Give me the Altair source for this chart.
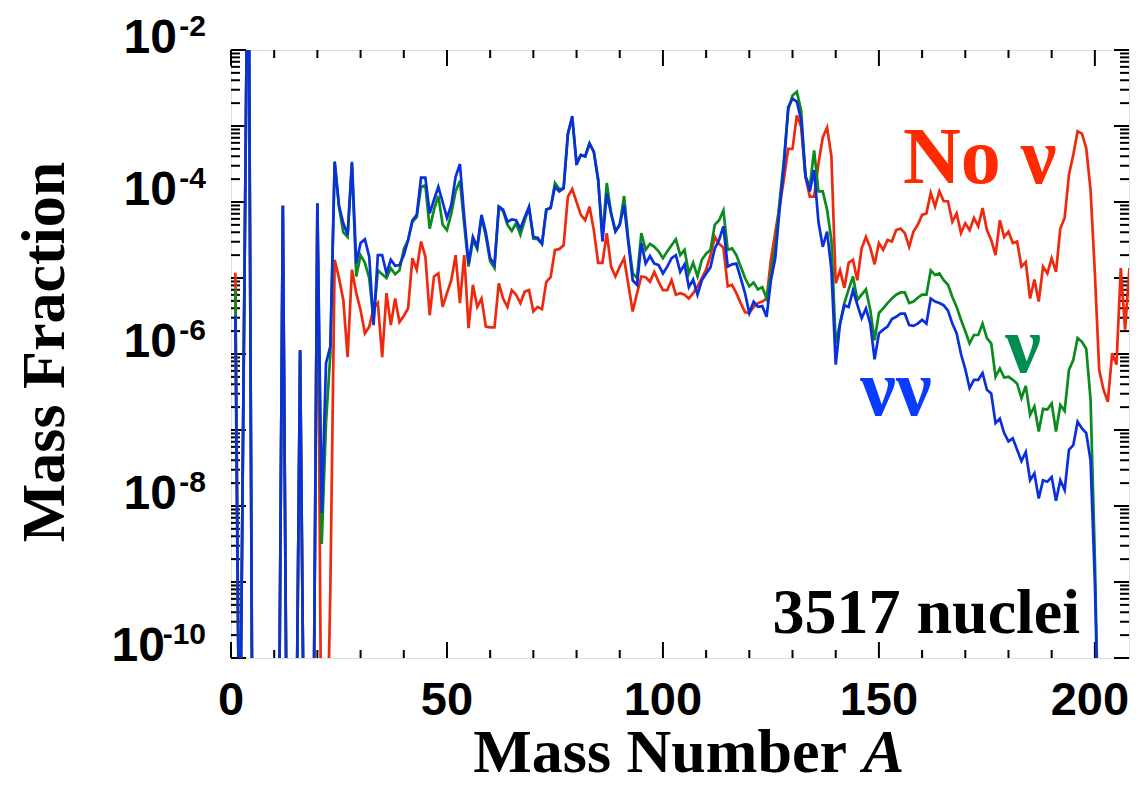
import altair as alt
import pandas as pd

# ---------------- data (mass number A, log10 of mass fraction) ----------------
A_nonu = [1, 2, 4, 5, 11, 12, 13, 15, 16, 17, 19, 20, 21, 22, 23, 24, 25, 26, 27, 28, 29, 30,
          31, 32, 33, 34, 35, 36, 37, 38, 39, 40, 41, 42, 43, 44, 45, 46, 47, 48, 49, 50,
          51, 52, 53, 54, 55, 56, 57, 58, 59, 60, 61, 62, 63, 64, 65, 66, 67, 68, 69, 70,
          71, 72, 73, 74, 75, 76, 77, 78, 79, 80, 81, 82, 83, 84, 85, 86, 87, 88, 89, 90,
          91, 92, 93, 94, 95, 96, 97, 98, 99, 100, 101, 102, 103, 104, 105, 106, 107, 108, 109, 110,
          111, 112, 113, 114, 115, 116, 117, 118, 119, 120, 121, 122, 123, 124, 125, 126, 127, 128, 129, 130,
          131, 132, 133, 134, 135, 136, 137, 138, 139, 140, 141, 142, 143, 144, 145, 146, 147, 148, 149, 150,
          151, 152, 153, 154, 155, 156, 157, 158, 159, 160, 161, 162, 163, 164, 165, 166, 167, 168, 169, 170,
          171, 172, 173, 174, 175, 176, 177, 178, 179, 180, 181, 182, 183, 184, 185, 186, 187, 188, 189, 190,
          191, 192, 193, 194, 195, 196, 197, 198, 199, 200, 201, 202, 203, 204, 205, 206, 207, 208, 209]
logX_nonu = [-4.93, -12, 0.5, -12, -12, -4.05, -12, -12, -5.95, -12, -12, -4.02, -12, -12, -9.1, -4.76, -5.0, -5.29, -6.04, -4.89, -5.2, -5.42,
             -5.73, -5.64, -5.4, -5.33, -6.04, -5.2, -5.62, -5.27, -5.58, -5.5, -5.4, -4.74, -4.89, -4.52, -4.72, -5.49, -4.98, -4.94, -5.38, -5.2,
             -5.03, -4.7, -5.33, -4.7, -5.66, -5.09, -5.38, -5.27, -5.64, -5.65, -5.65, -5.07, -5.27, -5.38, -5.16, -5.22, -5.33, -5.18, -5.16, -5.44,
             -5.38, -5.41, -5.05, -4.99, -4.63, -4.62, -4.57, -3.93, -3.83, -4.0, -4.17, -4.24, -4.06, -4.37, -4.8, -4.8, -4.41, -4.85, -4.98, -4.85,
             -4.74, -5.09, -5.44, -5.2, -4.98, -4.99, -5.05, -4.92, -5.05, -5.16, -5.16, -5.03, -5.22, -5.2, -5.22, -5.27, -5.2, -5.11, -5.0, -4.89,
             -4.7, -4.46, -4.55, -4.6, -5.11, -5.09, -5.2, -5.33, -5.45, -5.46, -5.38, -5.33, -5.31, -5.27, -4.76, -4.4, -4.06, -3.7, -3.3, -3.3,
             -2.86, -3.01, -3.67, -3.93, -3.93, -3.5, -3.15, -3.02, -3.4, -5.07, -4.9, -5.13, -4.8, -4.76, -5.03, -4.61, -4.46, -4.6, -4.82, -4.54,
             -4.63, -4.5, -4.52, -4.37, -4.35, -4.41, -4.59, -4.39, -4.3, -4.17, -4.15, -3.88, -4.06, -3.86, -3.99, -3.99, -4.26, -4.15, -4.41, -4.28,
             -4.37, -4.21, -4.32, -4.08, -4.37, -4.5, -4.7, -4.24, -4.46, -4.39, -4.54, -4.52, -4.85, -4.79, -5.27, -5.02, -5.31, -4.85, -4.94, -4.74,
             -4.92, -4.35, -4.21, -3.64, -3.38, -3.07, -3.1, -3.29, -3.84, -4.94, -6.21, -6.47, -6.63, -5.99, -6.14, -4.87, -5.68, -4.87, -5.11]

A_nu = [1, 2, 4, 5, 11, 12, 13, 15, 16, 17, 19, 20, 21, 22, 23, 24, 25, 26, 27, 28, 29, 30,
        31, 32, 33, 34, 35, 36, 37, 38, 39, 40, 41, 42, 43, 44, 45, 46, 47, 48, 49, 50,
        51, 52, 53, 54, 55, 56, 57, 58, 59, 60, 61, 62, 63, 64, 65, 66, 67, 68, 69, 70,
        71, 72, 73, 74, 75, 76, 77, 78, 79, 80, 81, 82, 83, 84, 85, 86, 87, 88, 89, 90,
        91, 92, 93, 94, 95, 96, 97, 98, 99, 100, 101, 102, 103, 104, 105, 106, 107, 108, 109, 110,
        111, 112, 113, 114, 115, 116, 117, 118, 119, 120, 121, 122, 123, 124, 125, 126, 127, 128, 129, 130,
        131, 132, 133, 134, 135, 136, 137, 138, 139, 140, 141, 142, 143, 144, 145, 146, 147, 148, 149, 150,
        151, 152, 153, 154, 155, 156, 157, 158, 159, 160, 161, 162, 163, 164, 165, 166, 167, 168, 169, 170,
        171, 172, 173, 174, 175, 176, 177, 178, 179, 180, 181, 182, 183, 184, 185, 186, 187, 188, 189, 190,
        191, 192, 193, 194, 195, 196, 197, 198, 199, 200, 201]
logX_nu = [-5.15, -12, 0.5, -12, -12, -4.05, -12, -12, -5.95, -12, -12, -4.02, -8.5, -6.9, -6.0, -3.47, -4.06, -4.4, -4.46, -3.5, -4.98, -4.7,
           -4.8, -5.0, -5.55, -4.9, -4.95, -5.0, -4.87, -4.95, -4.9, -4.62, -4.5, -4.26, -4.2, -3.8, -3.78, -4.35, -4.1, -3.92, -4.3, -4.37,
           -4.15, -3.86, -3.72, -4.3, -4.85, -4.5, -4.62, -4.2, -4.45, -4.78, -4.87, -4.07, -4.12, -4.3, -4.38, -4.28, -4.43, -4.24, -4.08, -4.48,
           -4.49, -4.55, -4.1, -4.08, -3.75, -3.83, -3.82, -3.1, -2.9, -3.48, -3.38, -3.4, -3.23, -3.34, -3.7, -4.45, -3.75, -4.15, -4.38, -4.3,
           -3.92, -4.5, -4.94, -5.0, -4.41, -4.63, -4.55, -4.59, -4.65, -4.74, -4.65, -4.57, -4.49, -4.7, -4.63, -4.94, -4.8, -4.98, -4.76, -4.68,
           -4.63, -4.3, -4.24, -4.11, -4.63, -4.61, -4.7, -4.85, -5.0, -5.11, -5.06, -5.15, -5.12, -5.27, -4.94, -4.59, -4.0, -3.45, -2.79, -2.6,
           -2.55, -2.8, -3.66, -3.8, -3.32, -3.86, -3.86, -4.1, -4.5, -5.86, -5.6, -5.33, -5.15, -4.98, -5.29, -5.22, -5.15, -5.42, -5.82, -5.46,
           -5.4, -5.33, -5.27, -5.22, -5.19, -5.19, -5.33, -5.31, -5.26, -5.22, -5.22, -4.9, -4.96, -4.94, -5.03, -5.09, -5.25, -5.38, -5.55, -5.7,
           -5.86, -5.75, -5.75, -5.6, -5.79, -5.86, -6.3, -6.19, -6.31, -6.3, -6.34, -6.39, -6.58, -6.42, -6.8, -6.69, -7.02, -6.72, -6.73, -6.65,
           -7.02, -6.67, -6.75, -6.21, -6.08, -5.79, -5.84, -5.93, -6.6, -8.7, -11.5]

A_nunu = A_nu
logX_nunu = [-5.5, -12, 0.5, -12, -12, -4.05, -12, -12, -5.95, -12, -12, -4.02, -8.09, -6.12, -5.9, -3.47, -4.05, -4.28, -4.43, -3.47, -4.81, -4.54,
             -4.49, -4.72, -5.62, -4.7, -4.7, -4.94, -4.76, -4.84, -4.83, -4.7, -4.5, -4.24, -4.17, -3.68, -3.68, -4.15, -3.97, -3.8, -4.0, -4.21,
             -4.04, -3.67, -3.5, -4.2, -4.81, -4.46, -4.59, -4.17, -4.4, -4.74, -4.82, -4.06, -4.1, -4.26, -4.23, -4.24, -4.35, -4.2, -4.06, -4.46,
             -4.47, -4.55, -4.1, -4.08, -3.8, -3.86, -3.82, -3.1, -2.87, -3.51, -3.38, -3.4, -3.23, -3.34, -3.71, -4.52, -3.89, -4.15, -4.39, -4.3,
             -4.04, -4.54, -5.03, -5.09, -4.54, -4.81, -4.71, -4.81, -4.83, -4.94, -4.85, -4.74, -4.7, -4.92, -4.82, -5.12, -5.02, -5.22, -5.03, -4.94,
             -4.86, -4.61, -4.5, -4.32, -4.85, -4.82, -4.81, -5.0, -5.2, -5.46, -5.31, -5.38, -5.37, -5.51, -5.03, -4.74, -4.1, -3.53, -2.75, -2.64,
             -2.68, -2.92, -3.66, -3.86, -3.58, -4.26, -4.59, -4.39, -4.89, -6.14, -5.6, -5.36, -5.38, -5.16, -5.35, -5.53, -5.4, -5.6, -6.07, -5.73,
             -5.68, -5.64, -5.54, -5.51, -5.47, -5.47, -5.62, -5.63, -5.6, -5.55, -5.6, -5.27, -5.31, -5.33, -5.36, -5.43, -5.6, -5.73, -6.0, -6.2,
             -6.45, -6.34, -6.34, -6.25, -6.47, -6.52, -6.91, -6.85, -7.04, -7.15, -7.11, -7.26, -7.41, -7.29, -7.66, -7.57, -7.9, -7.66, -7.68, -7.62,
             -7.93, -7.66, -7.79, -7.26, -7.2, -6.89, -6.98, -7.04, -7.4, -9.0, -11.5]

x_tick_labels = [0, 50, 100, 150, 200]
x_minor_ticks = [10, 20, 30, 40, 60, 70, 80, 90, 110, 120, 130, 140, 160, 170, 180, 190]
y_decades = [1e-2, 1e-3, 1e-4, 1e-5, 1e-6, 1e-7, 1e-8, 1e-9, 1e-10]
y_label_values = [1e-2, 1e-4, 1e-6, 1e-8, 1e-10]
y_label_exponents = ["-2", "-4", "-6", "-8", "-10"]
y_minor_ticks = [m * d for d in y_decades[1:] for m in range(2, 10)]

W, H = 898, 608
RED, GREEN, BLUE = "#ee2a0e", "#0b8a1e", "#0a2fdc"


def series(A, L):
    return pd.DataFrame({"A": A, "X": [10.0 ** v for v in L]})


xs = alt.Scale(domain=[0, 207.9], nice=False, zero=False)
ys = alt.Scale(type="log", domain=[1e-10, 1e-2], nice=False)
Xn = alt.X("A:Q", scale=xs, axis=None)
Y = alt.Y("X:Q", scale=ys, axis=None)


def line(df, color):
    return alt.Chart(df).mark_line(color=color, strokeWidth=2.7, clip=True, interpolate="linear").encode(x=Xn, y=Y)


xlab = pd.DataFrame({"A": x_tick_labels, "s": [str(v) for v in x_tick_labels]})
x_labels_main = alt.Chart(xlab).transform_filter("datum.A < 199").mark_text(
    align="center", baseline="alphabetic", font="Liberation Sans", fontWeight="bold", fontSize=47,
    color="black").encode(x=Xn, y=alt.value(H + 57), text="s:N")
x_labels_last = alt.Chart(xlab).transform_filter("datum.A > 199").mark_text(
    align="center", baseline="alphabetic", font="Liberation Sans", fontWeight="bold", fontSize=47,
    color="black", dx=-5).encode(x=Xn, y=alt.value(H + 57), text="s:N")

base_x = alt.Chart(pd.DataFrame({"A": x_tick_labels})).mark_rule(color="black", strokeWidth=2).encode(
    x=Xn, y=alt.value(H), y2=alt.value(H - 16))
top_x = alt.Chart(pd.DataFrame({"A": x_tick_labels})).mark_rule(color="black", strokeWidth=2).encode(
    x=Xn, y=alt.value(0), y2=alt.value(16))
minor_bx = alt.Chart(pd.DataFrame({"A": x_minor_ticks})).mark_rule(color="black", strokeWidth=2).encode(
    x=Xn, y=alt.value(H), y2=alt.value(H - 8))
minor_tx = alt.Chart(pd.DataFrame({"A": x_minor_ticks})).mark_rule(color="black", strokeWidth=2).encode(
    x=Xn, y=alt.value(0), y2=alt.value(8))

dec = pd.DataFrame({"X": y_decades})
mino = pd.DataFrame({"X": y_minor_ticks})
yl_major = alt.Chart(dec).mark_rule(color="black", strokeWidth=2).encode(y=Y, x=alt.value(0), x2=alt.value(15))
yr_major = alt.Chart(dec).mark_rule(color="black", strokeWidth=2).encode(y=Y, x=alt.value(W - 15), x2=alt.value(W))
yl_minor = alt.Chart(mino).mark_rule(color="black", strokeWidth=2).encode(y=Y, x=alt.value(0), x2=alt.value(9))
yr_minor = alt.Chart(mino).mark_rule(color="black", strokeWidth=2).encode(y=Y, x=alt.value(W - 9), x2=alt.value(W))

lab = pd.DataFrame({"X": y_label_values, "e": y_label_exponents})
exp_text = alt.Chart(lab).mark_text(align="right", baseline="alphabetic", font="Liberation Sans",
                                     fontWeight="bold", fontSize=30, dy=-14, color="black").encode(
    y=Y, x=alt.value(-25), text="e:N")
ten_short = alt.Chart(lab).transform_filter("datum.X > 1e-9").mark_text(
    align="right", baseline="alphabetic", font="Liberation Sans", fontWeight="bold", fontSize=48,
    dy=3, color="black").encode(y=Y, x=alt.value(-54), text=alt.value("10"))
ten_long = alt.Chart(lab).transform_filter("datum.X < 1e-9").mark_text(
    align="right", baseline="alphabetic", font="Liberation Sans", fontWeight="bold", fontSize=48,
    dy=3, color="black").encode(y=Y, x=alt.value(-66), text=alt.value("10"))


def label(txt, x, y, size, color="black", align="left", style="normal", angle=0):
    kw = dict(align=align, baseline="alphabetic", font="Liberation Serif", fontWeight="bold",
              fontSize=size, color=color, fontStyle=style)
    if angle:
        kw["angle"] = angle
    return alt.Chart(pd.DataFrame({"t": [txt]})).mark_text(**kw).encode(
        text="t:N", x=alt.value(x), y=alt.value(y))


texts = [
    label("Mass Number", 616, 722, 62, align="right"),
    label("A", 632, 722, 62, style="italic"),
    label("Mass Fraction", -167, 302, 62, align="center", angle=270),
    label("No \u03bd", 672, 133, 80, color="#ff2a00"),
    label("\u03bd", 792, 322, 80, color="#008d52", align="center"),
    label("\u03bd\u03bd", 665, 365, 80, color="#0a3cff", align="center"),
    label("3517 nuclei", 849, 583, 64, align="right"),
]

chart = alt.layer(
    base_x, top_x, minor_bx, minor_tx, yl_major, yr_major, yl_minor, yr_minor,
    line(series(A_nonu, logX_nonu), RED),
    line(series(A_nu, logX_nu), GREEN),
    line(series(A_nunu, logX_nunu), BLUE),
    x_labels_main, x_labels_last, exp_text, ten_short, ten_long,
    *texts,
).properties(
    width=W, height=H,
    autosize=alt.AutoSizeParams(type="none"),
    padding={"left": 223, "top": 42, "right": 2, "bottom": 119},
).configure_view(stroke="black", strokeWidth=3).configure(background="white")

chart.save("out.html", embed_options={"renderer": "svg", "actions": False})
